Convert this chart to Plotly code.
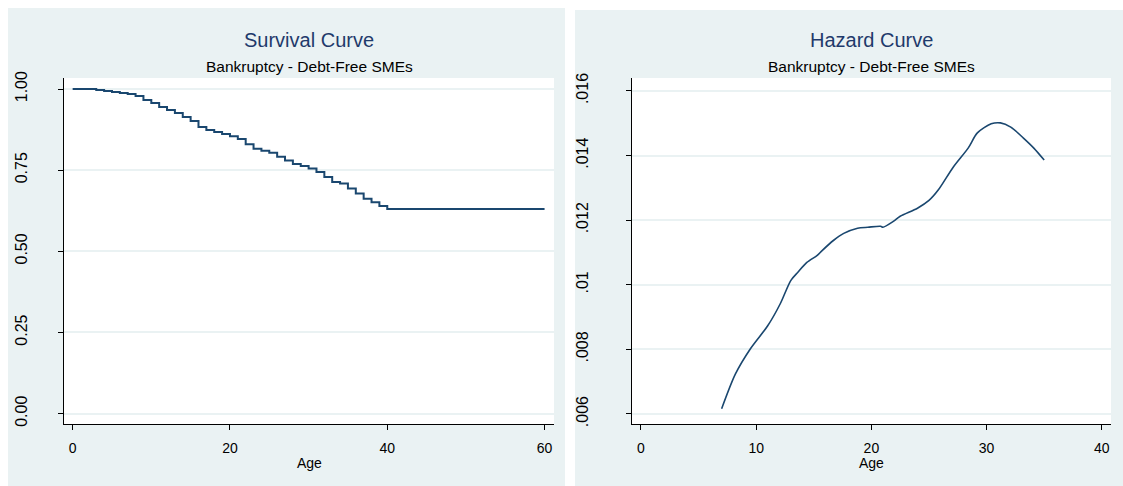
import plotly.graph_objects as go

# ---- data ----
surv_age = list(range(0, 41)) + [60]
surv_prob = [1.0, 1.0, 1.0, 0.9969, 0.9938, 0.9907, 0.9877, 0.9846, 0.9784, 0.9660,
             0.9568, 0.9444, 0.9352, 0.9259, 0.9136, 0.9012, 0.8827, 0.8735, 0.8673, 0.8611,
             0.8549, 0.8457, 0.8302, 0.8164, 0.8102, 0.8040, 0.7910, 0.7799, 0.7694, 0.7630,
             0.7552, 0.7444, 0.7293, 0.7139, 0.7090, 0.6935, 0.6781, 0.6617, 0.6512, 0.6395,
             0.6306, 0.6306]

haz_age = [7.0, 8.2, 9.5, 11.0, 12.1, 13.0, 13.6, 14.4, 15.3, 15.7, 16.7, 17.6, 18.8, 19.7,
           20.8, 21.0, 21.9, 22.5, 24.0, 25.0, 25.8, 27.1, 28.4, 29.2, 30.4, 31.2, 32.1, 33.2,
           34.1, 35.0]
haz_val = [0.00616, 0.00724, 0.00802, 0.00873, 0.00942, 0.01013, 0.01038, 0.01069, 0.01091,
           0.01105, 0.01137, 0.01159, 0.01175, 0.01178, 0.01181, 0.01178, 0.01196, 0.01212,
           0.01237, 0.01261, 0.01293, 0.01364, 0.01423, 0.01470, 0.01498, 0.01501, 0.01488,
           0.01454, 0.01423, 0.01386]

surv_xticks = [0, 20, 40, 60]
surv_yticks = [0, 0.25, 0.5, 0.75, 1.0]
surv_ytext = ["0.00", "0.25", "0.50", "0.75", "1.00"]
haz_xticks = [0, 10, 20, 30, 40]
haz_yticks = [0.006, 0.008, 0.010, 0.012, 0.014, 0.016]
haz_ytext = [".006", ".008", ".01", ".012", ".014", ".016"]

titles = ["Survival Curve", "Hazard Curve"]
subtitle = "Bankruptcy - Debt-Free SMEs"
xlabel = "Age"

# ---- style ----
W, H = 1123, 486
PANEL = "#EAF2F3"
LINE = "#1a476f"
TITLE_C = "#1f3a6b"
FONT = "Liberation Sans, Arial, sans-serif"

def fx(px):
    return px / W

def fy(py):
    return 1 - py / H

fig = go.Figure()
fig.add_trace(go.Scatter(x=surv_age, y=surv_prob, mode="lines", line_shape="hv",
                         line=dict(color=LINE, width=2), xaxis="x", yaxis="y",
                         showlegend=False, hoverinfo="skip"))
fig.add_trace(go.Scatter(x=haz_age, y=haz_val, mode="lines", line_shape="spline",
                         line=dict(color=LINE, width=1.6, smoothing=0.8), xaxis="x2", yaxis="y2",
                         showlegend=False, hoverinfo="skip"))

ydom = [fy(424), fy(78)]
common_x = dict(showline=True, linecolor="black", linewidth=1, ticks="outside", ticklen=5,
                tickcolor="black", showgrid=False, zeroline=False, automargin=False,
                tickfont=dict(family=FONT, size=14, color="black"),
                ticklabelstandoff=6)
common_y = dict(showline=True, linecolor="black", linewidth=1, ticks="outside", ticklen=5,
                tickcolor="black", showgrid=True, gridcolor=PANEL, gridwidth=1.5,
                zeroline=False, tickangle=-90, automargin=False,
                tickfont=dict(family=FONT, size=16, color="black"))

fig.update_layout(
    width=W, height=H, autosize=False,
    margin=dict(l=0, r=0, t=0, b=0, pad=0, autoexpand=False),
    paper_bgcolor=PANEL, plot_bgcolor="white",
    xaxis=dict(domain=[fx(64), fx(554)], range=[-1.1, 61.2], tickvals=surv_xticks,
               anchor="y", **common_x),
    yaxis=dict(domain=ydom, range=[-0.032, 1.034], tickvals=surv_yticks, ticktext=surv_ytext,
               anchor="x", ticklabelstandoff=25, **common_y),
    xaxis2=dict(domain=[fx(632), fx(1111)], range=[-0.78, 40.8], tickvals=haz_xticks,
                anchor="y2", **common_x),
    yaxis2=dict(domain=ydom, range=[0.00569, 0.0164], tickvals=haz_yticks, ticktext=haz_ytext,
                anchor="x2", ticklabelstandoff=32, **common_y),
    shapes=[
        dict(type="rect", xref="paper", yref="paper", x0=0, x1=fx(565), y0=fy(8), y1=1,
             fillcolor="white", line_width=0, layer="below"),
        dict(type="rect", xref="paper", yref="paper", x0=fx(565), x1=1, y0=fy(10), y1=1,
             fillcolor="white", line_width=0, layer="below"),
        dict(type="rect", xref="paper", yref="paper", x0=0, x1=fx(8), y0=0, y1=1,
             fillcolor="white", line_width=0, layer="below"),
        dict(type="rect", xref="paper", yref="paper", x0=fx(565), x1=fx(575), y0=0, y1=1,
             fillcolor="white", line_width=0, layer="below"),
    ],
)

anns = []
for cx, t in [(309, titles[0]), (871, titles[1])]:
    anns.append(dict(text=t, x=fx(cx), y=fy(40), xref="paper", yref="paper",
                     showarrow=False, xanchor="center", yanchor="middle",
                     font=dict(family=FONT, size=20, color=TITLE_C)))
    anns.append(dict(text=subtitle, x=fx(cx), y=fy(67), xref="paper", yref="paper",
                     showarrow=False, xanchor="center", yanchor="middle",
                     font=dict(family=FONT, size=15.5, color="black")))
    anns.append(dict(text=xlabel, x=fx(cx), y=fy(463), xref="paper", yref="paper",
                     showarrow=False, xanchor="center", yanchor="middle",
                     font=dict(family=FONT, size=14, color="black")))
fig.update_layout(annotations=anns)

fig.write_html("out.html",
               config={"displayModeBar": False, "responsive": False},
               post_script="document.body.style.margin='0px';"
                           "document.body.style.overflow='hidden';")
